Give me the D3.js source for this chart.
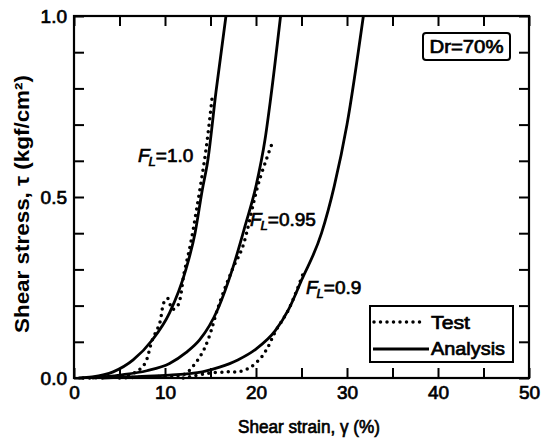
<!DOCTYPE html>
<html>
<head>
<meta charset="utf-8">
<script src="https://cdn.jsdelivr.net/npm/d3@7"></script>
<style>
  html, body { margin: 0; padding: 0; background: #fff; }
  svg { display: block; font-family: "Liberation Sans", Arial, sans-serif; }
</style>
</head>
<body>
<svg id="chart" width="547" height="441"></svg>
<script>
// ---- data (shear strain %, shear stress kgf/cm2) ----
const xTicks = [0, 10, 20, 30, 40, 50];
const yTicks = [0.0, 0.5, 1.0];

const analysisFL10 = [[0.5,0],[2,0.003],[4.3,0.017],[6.5,0.05],[8.6,0.105],[10.5,0.18],[12.3,0.30],[13.3,0.40],[14.1,0.52],[14.7,0.60],[15.6,0.79],[16.7,1.0]];
const analysisFL095 = [[2,0],[5,0.008],[8,0.02],[10.5,0.04],[12.3,0.07],[13.8,0.105],[15.8,0.19],[17.4,0.30],[18.8,0.42],[20.0,0.53],[21.0,0.66],[21.6,0.77],[22.7,1.0]];
const analysisFL09 = [[3,0],[7,0.004],[10.5,0.008],[14.1,0.017],[16,0.03],[18,0.05],[20,0.08],[22.1,0.13],[23.6,0.19],[25,0.27],[27.2,0.40],[28.6,0.53],[30,0.70],[31.8,1.0]];

const testFL10 = [[1,0],[4,0.002],[6,0.008],[7,0.02],[7.8,0.04],[8.6,0.105],[9.4,0.15],[9.9,0.21],[10.3,0.22],[10.8,0.19],[11.4,0.20],[12.1,0.29],[12.8,0.37],[13.5,0.47],[14.5,0.63],[15.2,0.78]];
const testFL095 = [[5,0],[10,0.005],[12.1,0.01],[13,0.03],[14.1,0.07],[14.8,0.11],[15.9,0.20],[17.4,0.30],[18.5,0.36],[20.3,0.54],[21.8,0.65]];
const testFL09 = [[12,0],[14.8,0.013],[17,0.017],[18.1,0.017],[19.4,0.03],[20.6,0.058],[21.3,0.085],[22.1,0.127],[23.6,0.19],[25.2,0.29]];

const curveLabels = [
  { fl: "=1.0",  x: 138, y: 162 },
  { fl: "=0.95", x: 250, y: 226 },
  { fl: "=0.9",  x: 306, y: 294 }
];
const legendItems = ["Test", "Analysis"];

// ---- drawing ----
const svg = d3.select("#chart");
const xS = d3.scaleLinear().domain([0, 50]).range([74, 529]);
const yS = d3.scaleLinear().domain([0, 1]).range([378, 16]);

const tickLen = 10;
const txtStroke = 0.7;
const fmtX = d => (xTicks.includes(d) ? d3.format("d")(d) : "");
const fmtY = d => (yTicks.some(v => Math.abs(v - d) < 1e-6) ? d3.format(".1f")(d) : "");

const axB = svg.append("g").attr("transform", `translate(0,${yS(0)})`)
  .call(d3.axisBottom(xS).tickValues(d3.range(0, 51, 5)).tickSizeInner(-tickLen).tickSizeOuter(0).tickPadding(8).tickFormat(fmtX));
const axT = svg.append("g").attr("transform", `translate(0,${yS(1)})`)
  .call(d3.axisTop(xS).tickValues(d3.range(0, 51, 5)).tickSizeInner(-tickLen).tickSizeOuter(0).tickFormat(""));
const axL = svg.append("g").attr("transform", `translate(${xS(0)},0)`)
  .call(d3.axisLeft(yS).tickValues(d3.range(0, 1.01, 0.1)).tickSizeInner(-tickLen).tickSizeOuter(0).tickPadding(7).tickFormat(fmtY));
const axR = svg.append("g").attr("transform", `translate(${xS(50)},0)`)
  .call(d3.axisRight(yS).tickValues(d3.range(0, 1.01, 0.1)).tickSizeInner(-tickLen).tickSizeOuter(0).tickFormat(""));

[axB, axT, axL, axR].forEach(g => {
  g.select(".domain").remove();
  g.selectAll(".tick line").attr("stroke", "#000").attr("stroke-width", 2);
  g.selectAll(".tick text").attr("fill", "#000").attr("font-size", 19)
    .attr("font-family", "'Liberation Sans', Arial, sans-serif").attr("stroke", "#000").attr("stroke-width", txtStroke);
});

// frame
svg.append("rect").attr("x", xS(0)).attr("y", yS(1)).attr("width", xS(50) - xS(0)).attr("height", yS(0) - yS(1))
  .attr("fill", "none").attr("stroke", "#000").attr("stroke-width", 2.2);

const lineA = d3.line().x(d => xS(d[0])).y(d => yS(d[1])).curve(d3.curveMonotoneX);
const lineT = d3.line().x(d => xS(d[0])).y(d => yS(d[1])).curve(d3.curveCatmullRom);

[analysisFL10, analysisFL095, analysisFL09].forEach(s => {
  svg.append("path").attr("d", lineA(s)).attr("fill", "none").attr("stroke", "#000").attr("stroke-width", 2.8);
});
[testFL10, testFL095, testFL09].forEach(s => {
  svg.append("path").attr("d", lineT(s)).attr("fill", "none").attr("stroke", "#000")
    .attr("stroke-width", 3.5).attr("stroke-linecap", "round").attr("stroke-dasharray", "0 6.5");
});

// curve labels
curveLabels.forEach(l => {
  const t = svg.append("text").attr("x", l.x).attr("y", l.y).attr("font-size", 19).attr("fill", "#000")
    .attr("stroke", "#000").attr("stroke-width", txtStroke);
  t.append("tspan").attr("font-style", "italic").text("F");
  t.append("tspan").attr("font-style", "italic").attr("font-size", 13).attr("dy", 4).attr("dx", -1).text("L");
  t.append("tspan").attr("dy", -4).attr("dx", 0).text(l.fl);
});

// Dr box
svg.append("rect").attr("x", 423).attr("y", 33).attr("width", 87).attr("height", 27).attr("rx", 3)
  .attr("fill", "#fff").attr("stroke", "#000").attr("stroke-width", 2);
svg.append("text").attr("x", 466.5).attr("y", 53).attr("text-anchor", "middle").attr("font-size", 18)
  .attr("fill", "#000").attr("stroke", "#000").attr("stroke-width", txtStroke)
  .attr("textLength", 74).attr("lengthAdjust", "spacingAndGlyphs").text("Dr=70%");

// legend
svg.append("rect").attr("x", 370).attr("y", 306).attr("width", 143).attr("height", 56)
  .attr("fill", "#fff").attr("stroke", "#000").attr("stroke-width", 2);
svg.append("line").attr("x1", 374).attr("x2", 423).attr("y1", 322).attr("y2", 322)
  .attr("stroke", "#000").attr("stroke-width", 3.5).attr("stroke-linecap", "round").attr("stroke-dasharray", "0 6.5");
svg.append("line").attr("x1", 373).attr("x2", 429).attr("y1", 349).attr("y2", 349)
  .attr("stroke", "#000").attr("stroke-width", 2.8);
svg.append("text").attr("x", 431).attr("y", 329).attr("font-size", 19).attr("fill", "#000")
  .attr("stroke", "#000").attr("stroke-width", txtStroke).attr("textLength", 39).attr("lengthAdjust", "spacingAndGlyphs").text(legendItems[0]);
svg.append("text").attr("x", 431).attr("y", 355).attr("font-size", 19).attr("fill", "#000")
  .attr("stroke", "#000").attr("stroke-width", txtStroke).attr("textLength", 74).attr("lengthAdjust", "spacingAndGlyphs").text(legendItems[1]);

// axis titles
svg.append("text").attr("x", 309).attr("y", 433).attr("text-anchor", "middle").attr("font-size", 19)
  .attr("fill", "#000").attr("stroke", "#000").attr("stroke-width", txtStroke)
  .attr("textLength", 142).attr("lengthAdjust", "spacingAndGlyphs").text("Shear strain, γ (%)");
svg.append("text").attr("transform", "translate(29,204) rotate(-90)").attr("text-anchor", "middle")
  .attr("font-size", 20).attr("font-weight", "bold").attr("fill", "#000")
  .attr("textLength", 258).attr("lengthAdjust", "spacingAndGlyphs")
  .text("Shear stress, τ (kgf/cm²)");
</script>
</body>
</html>
